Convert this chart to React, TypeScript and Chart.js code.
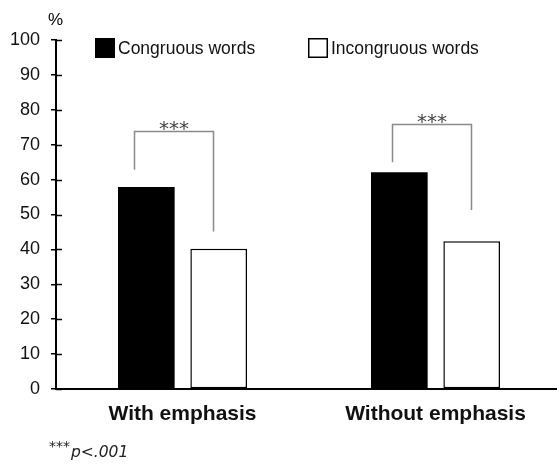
import React, { useEffect, useRef } from "react";
import { Chart, registerables } from "chart.js";

Chart.register(...registerables);

const categories = ["With emphasis", "Without emphasis"];
const seriesLabels = ["Congruous words", "Incongruous words"];
const congruous = [57.9, 62.1];
const incongruous = [40.2, 42.3];
const yMin = 0;
const yMax = 100;
const yStep = 10;
const yUnit = "%";
const bracketTop = [74, 76];
const bracketLeftEnd = [62.8, 65];
const bracketRightEnd = [45.1, 51.3];
const sigLabels = ["***", "***"];
const footStars = "***";
const footText = "p<.001";

const FONT = '"Liberation Sans", Arial, sans-serif';

const extrasPlugin = {
  id: "extras",
  afterDraw(chart: any) {
    const ctx = chart.ctx;
    const y = chart.scales.y;
    const area = chart.chartArea;
    ctx.save();
    // inward tick marks on y axis
    ctx.strokeStyle = "#000";
    ctx.lineWidth = 1.5;
    y.ticks.forEach((t: any) => {
      const py = Math.round(y.getPixelForValue(t.value)) + 0.5;
      ctx.beginPath();
      ctx.moveTo(area.left, py);
      ctx.lineTo(area.left + 6, py);
      ctx.stroke();
    });
    // unit label
    ctx.fillStyle = "#000";
    ctx.font = `17px ${FONT}`;
    ctx.textAlign = "left";
    ctx.textBaseline = "alphabetic";
    ctx.fillText(yUnit, 48, 25);

    // legend
    const boxX = [95, 308];
    chart.data.datasets.forEach((ds: any, i: number) => {
      const bx = boxX[i];
      ctx.fillStyle = ds.backgroundColor;
      ctx.fillRect(bx, 38, 20, 20);
      ctx.strokeStyle = "#000";
      ctx.lineWidth = 1.5;
      ctx.strokeRect(bx + 0.75, 38.75, 18.5, 18.5);
      ctx.fillStyle = "#111";
      ctx.font = `17.5px ${FONT}`;
      ctx.textBaseline = "middle";
      ctx.fillText(ds.label, bx + 23, 49);
    });

    // brackets
    const m0 = chart.getDatasetMeta(0);
    const m1 = chart.getDatasetMeta(1);
    const leftOff = [-12, -7];
    const rightOff = [-6, -1];
    ctx.lineWidth = 1.5;
    categories.forEach((_, i) => {
      const xl = Math.round(m0.data[i].x + leftOff[i]) + 0.5;
      const xr = Math.round(m1.data[i].x + rightOff[i]) + 0.5;
      const yt = Math.round(y.getPixelForValue(bracketTop[i])) + 0.5;
      const yl = y.getPixelForValue(bracketLeftEnd[i]);
      const yr = y.getPixelForValue(bracketRightEnd[i]);
      ctx.strokeStyle = "#8a8a8a";
      ctx.beginPath();
      ctx.moveTo(xl, yl);
      ctx.lineTo(xl, yt);
      ctx.lineTo(xr, yt);
      ctx.lineTo(xr, yr);
      ctx.stroke();
      ctx.fillStyle = "#444";
      ctx.font = `20px "DejaVu Sans", sans-serif`;
      ctx.textAlign = "center";
      ctx.textBaseline = "alphabetic";
      const m = ctx.measureText(sigLabels[i]);
      const desc = m.actualBoundingBoxDescent || 0;
      ctx.fillText(sigLabels[i], (xl + xr) / 2, yt - 1.5 - desc);
    });

    // footnote
    ctx.fillStyle = "#222";
    ctx.textAlign = "left";
    ctx.textBaseline = "alphabetic";
    ctx.font = `italic 14px "DejaVu Sans", sans-serif`;
    const sm = ctx.measureText(footStars);
    const sdesc = sm.actualBoundingBoxDescent || 0;
    ctx.fillText(footStars, 49, 448 - sdesc);
    ctx.font = `italic 15.5px "DejaVu Sans", sans-serif`;
    ctx.fillText(footText, 49 + sm.width + 1, 457);
    ctx.restore();
  },
};

export default function App() {
  const ref = useRef<HTMLCanvasElement | null>(null);
  useEffect(() => {
    document.body.style.margin = "0";
    if (!ref.current) return;
    const chart = new Chart(ref.current, {
      type: "bar",
      data: {
        labels: categories,
        datasets: [
          {
            label: seriesLabels[0],
            data: congruous,
            backgroundColor: "#000",
            borderColor: "#000",
            borderWidth: 0,
            barPercentage: 0.783,
            categoryPercentage: 0.572,
          },
          {
            label: seriesLabels[1],
            data: incongruous,
            backgroundColor: "#fff",
            borderColor: "#000",
            borderWidth: 1.5,
            borderSkipped: false,
            barPercentage: 0.783,
            categoryPercentage: 0.572,
          },
        ],
      },
      options: {
        responsive: false,
        animation: false,
        layout: { padding: { top: 40, left: 0, right: 0, bottom: 0 } },
        plugins: {
          legend: { display: false },
          tooltip: { enabled: false },
        },
        scales: {
          x: {
            grid: { drawOnChartArea: false, drawTicks: false },
            border: { color: "#000", width: 2 },
            ticks: {
              color: "#111",
              padding: 13,
              font: { family: FONT, size: 21, weight: "bold" },
            },
            afterFit(scale: any) {
              scale.height = 77;
            },
          },
          y: {
            min: yMin,
            max: yMax,
            grid: {
              drawOnChartArea: false,
              drawTicks: true,
              tickLength: 5,
              color: "#000",
              lineWidth: 1.5,
            },
            border: { color: "#000", width: 2 },
            ticks: {
              stepSize: yStep,
              color: "#111",
              padding: 11,
              font: { family: FONT, size: 18 },
            },
            afterFit(scale: any) {
              scale.width = 56;
            },
          },
        },
      },
      plugins: [extrasPlugin],
    });
    return () => chart.destroy();
  }, []);
  return (
    <div
      style={{
        position: "fixed",
        left: 0,
        top: 0,
        width: 557,
        height: 466,
        overflow: "hidden",
        background: "#fff",
      }}
    >
      <canvas ref={ref} width={562} height={466} style={{ width: 562, height: 466, display: "block" }} />
    </div>
  );
}
